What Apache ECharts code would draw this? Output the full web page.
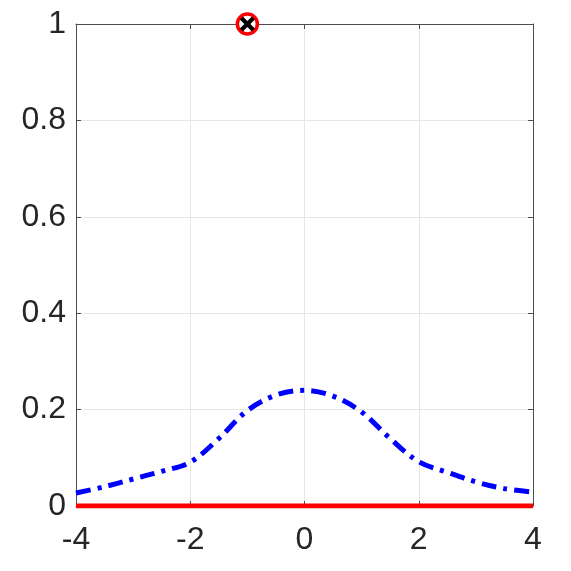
<!DOCTYPE html>
<html>
<head>
<meta charset="utf-8">
<script src="https://cdn.jsdelivr.net/npm/echarts@6/dist/echarts.min.js"></script>
<style>
  html, body { margin: 0; padding: 0; background: #fff; }
  #chart { width: 571px; height: 571px; }
</style>
</head>
<body>
<div id="chart"></div>
<script>
// curve
var xs = [-4, -3.5, -3, -2.5, -2, -1.5, -1, -0.5, 0, 0.5, 1, 1.5, 2, 2.5, 3, 3.5, 4]
var density = [0.027, 0.04, 0.056, 0.072, 0.091, 0.14, 0.198, 0.23, 0.24, 0.228, 0.195, 0.14, 0.092, 0.07, 0.05, 0.036, 0.029]
var baseX = [-4, 4]
var baseY = [0, 0]
var markPoint = [-1, 1]
var xTicks = [-4, -2, 0, 2, 4]
var yTicks = [0, 0.2, 0.4, 0.6, 0.8, 1]

var chart = echarts.init(document.getElementById('chart'))

var labelFont = { fontFamily: 'Liberation Sans, Arial, sans-serif', fontSize: 32, color: '#262626' }
var axisLine = { show: true, onZero: false, lineStyle: { color: '#4d4d4d', width: 1 }}
var tickStyle = { show: true, inside: true, length: 5, lineStyle: { color: '#4d4d4d' }}

var option = {
  animation: false,
  grid: { left: 76, right: 38, top: 24, bottom: 65 },
  xAxis: [
    {
      type: 'value', min: -4, max: 4, interval: 2,
      axisLine: axisLine, axisTick: tickStyle,
      axisLabel: Object.assign({ margin: 18 }, labelFont),
      splitLine: { show: true, lineStyle: { color: '#e6e6e6' }}
    },
    {
      type: 'value', position: 'top', min: -4, max: 4, interval: 2,
      axisLine: axisLine, axisTick: tickStyle, axisLabel: { show: false }, splitLine: { show: false }
    }
  ],
  yAxis: [
    {
      type: 'value', min: 0, max: 1, interval: 0.2,
      axisLine: axisLine, axisTick: tickStyle,
      axisLabel: Object.assign({ margin: 10, formatter: function(v) { return String(Math.round(v * 10) / 10) } }, labelFont),
      splitLine: { show: true, lineStyle: { color: '#e6e6e6' }}
    },
    {
      type: 'value', position: 'right', min: 0, max: 1, interval: 0.2,
      axisLine: axisLine, axisTick: tickStyle, axisLabel: { show: false }, splitLine: { show: false }
    }
  ],
  series: [
    {
      type: 'line',
      data: baseX.map(function(x, i) { return [x, baseY[i]] }),
      symbol: 'none',
      lineStyle: { color: '#ff0000', width: 5 },
      z: 3
    },
    {
      type: 'line',
      data: xs.map(function(x, i) { return [x, density[i]] }),
      symbol: 'none',
      smooth: 0.35,
      lineStyle: { color: '#0000ff', width: 5, type: [15, 7, 4, 7] },
      z: 4
    },
    {
      type: 'scatter',
      data: [markPoint],
      symbol: 'circle',
      symbolSize: 20,
      itemStyle: { color: '#ffffff', borderColor: '#ff0000', borderWidth: 3.5, opacity: 1 },
      clip: false,
      z: 5
    },
    {
      type: 'scatter',
      data: [markPoint],
      symbol: 'path://M2,0 L5,3 L8,0 L10,2 L7,5 L10,8 L8,10 L5,7 L2,10 L0,8 L3,5 L0,2 Z',
      symbolSize: 15,
      itemStyle: { color: '#000000', opacity: 1 },
      clip: false,
      z: 6
    }
  ]
}

chart.setOption(option)
</script>
</body>
</html>
